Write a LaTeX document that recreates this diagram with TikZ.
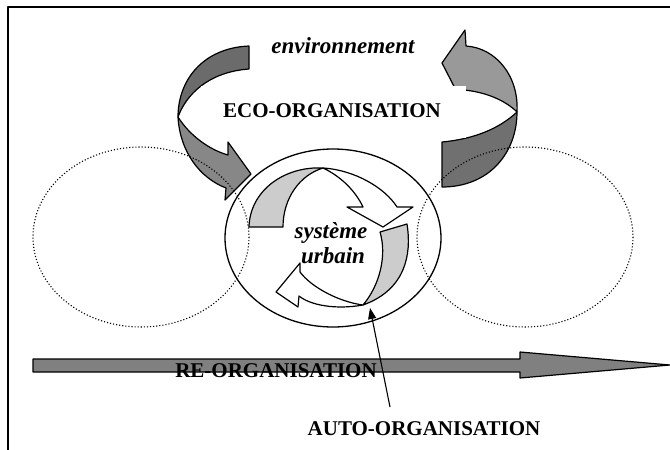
\documentclass[tikz,border=0pt]{standalone}
\usepackage{fontspec}
\setmainfont{Liberation Serif}
\usetikzlibrary{arrows.meta}
\definecolor{backband}{gray}{0.42}
\definecolor{frontband}{gray}{0.53}
\definecolor{tailband}{gray}{0.44}
\definecolor{headband}{gray}{0.6}
\definecolor{loopgray}{gray}{0.8}
\definecolor{bargray}{gray}{0.5}
\begin{document}
\begin{tikzpicture}[x=1pt,y=-1pt,line join=round,
    band/.style={draw=black,line width=1.2pt},
    halo/.style={line width=1.1pt,dash pattern=on 1.1pt off 2pt},
    capslbl/.style={inner sep=0pt,anchor=base,font=\fontsize{21}{24}\selectfont\bfseries},
    itlbl/.style={inner sep=0pt,anchor=base,font=\fontsize{23}{26}\selectfont\bfseries\itshape}]
    \useasboundingbox (0,0) rectangle (670,450);
    % frame
    \draw[line width=1.5pt] (8,450) -- (8,7) -- (670,7);
    % left curved arrow
    \draw[band,fill=backband] (249,46) .. controls (203,48) and (178,80) .. (178,117)
        .. controls (186,95) and (208,72) .. (249,69) -- cycle;
    \draw[band,fill=frontband] (178,117) .. controls (180,152) and (200,178) .. (226,188)
        -- (225,200) -- (251,174) -- (228,142) -- (228,155)
        .. controls (210,150) and (190,136) .. (178,117) -- cycle;
    % right curved arrow
    \draw[band,fill=tailband] (442,142) -- (442,187) .. controls (490,187) and (517,152) .. (517,112)
        .. controls (500,128) and (475,139) .. (442,142) -- cycle;
    \draw[band,fill=headband] (517,112) .. controls (519,76) and (496,48) .. (466,46)
        -- (465,30) -- (442,63) -- (461,100) -- (464,90)
        .. controls (485,92) and (505,100) .. (517,112) -- cycle;
    \fill[white] (201,86) rectangle (466,138);
    \node[capslbl] (eco) at (332,117) {ECO-ORGANISATION};
    \node[itlbl] (env) at (343,53) {environnement};
    % system and its neighbours
    \draw[line width=1.3pt] (333,238) ellipse [x radius=108,y radius=89];
    \draw[halo] (141,237) ellipse [x radius=108,y radius=90];
    \draw[halo] (525,237) ellipse [x radius=108,y radius=90];
    % inner loop arrows
    \draw[band,fill=loopgray] (249,227) .. controls (250,190) and (285,166) .. (323,168)
        .. controls (300,175) and (283,198) .. (283,227) -- cycle;
    \draw[band,fill=white] (323,168) .. controls (355,170) and (385,188) .. (397,207)
        -- (413,207) -- (383,227) -- (347,207) -- (363,207)
        .. controls (355,190) and (340,176) .. (323,168) -- cycle;
    \draw[band,fill=loopgray] (407,224) .. controls (412,255) and (405,290) .. (363,305)
        .. controls (380,285) and (387,255) .. (380,232) -- cycle;
    \draw[band,fill=white] (363,305) .. controls (335,310) and (310,305) .. (299,296)
        -- (298,307) -- (276,292) -- (300,263) -- (300,272)
        .. controls (312,288) and (340,302) .. (363,305) -- cycle;
    \node[itlbl] (sysa) at (331,238) {système};
    \node[itlbl] (sysb) at (333,263) {urbain};
    % time axis
    \draw[band,fill=bargray] (33,359) -- (520,359) -- (520,352) -- (670,365)
        -- (520,378) -- (520,372) -- (33,372) -- cycle;
    \node[capslbl] (reorg) at (276,377) {RE-ORGANISATION};
    \node[capslbl] (autoorg) at (424,435) {AUTO-ORGANISATION};
    \coordinate (lead) at (390,407);
    \coordinate (loop) at (370,308);
    \draw[line width=1.1pt,-{Triangle[length=11pt,width=8pt]}] (lead) -- (loop);
\end{tikzpicture}
\end{document}
